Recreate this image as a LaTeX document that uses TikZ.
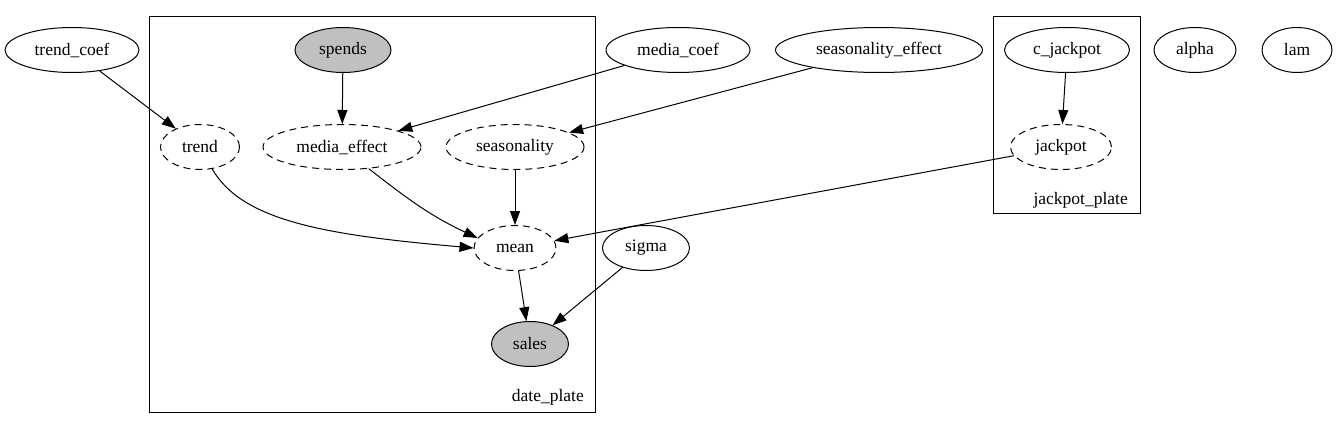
\documentclass[tikz,border=0pt]{standalone}
\usepackage{fontspec}
\setmainfont{Liberation Serif}
\usetikzlibrary{shapes.geometric,arrows.meta}
\definecolor{obsgray}{HTML}{C0C0C0}
\begin{document}
\begin{tikzpicture}[x=1pt,y=1pt,
  every node/.style={font=\fontsize{17.5}{21}\selectfont},
  rv/.style={ellipse,draw,line width=1pt,minimum height=45pt,inner sep=0pt},
  det/.style={rv,dash pattern=on 7pt off 5pt},
  obs/.style={rv,fill=obsgray},
  edge/.style={-{Triangle[length=14pt,width=10pt]},line width=1pt},
  plate/.style={draw,line width=1.1pt,rectangle,inner sep=0pt,anchor=north west},
  platelabel/.style={anchor=east,inner sep=0pt}
]
\useasboundingbox (0,0) rectangle (1338,-428);
% plates
\node[plate,minimum width=446pt,minimum height=396pt] (date_plate) at (149,-16) {};
\node[plate,minimum width=147pt,minimum height=197pt] (jackpot_plate) at (993,-16) {};
\node[platelabel] (date_label) at (584,-397) {date\_plate};
\node[platelabel] (jackpot_label) at (1128,-200) {jackpot\_plate};
% nodes
\node[rv,minimum width=134pt] (trend_coef) at (72,-50) {trend\_coef};
\node[obs,minimum width=96pt] (spends) at (343,-50) {spends};
\node[rv,minimum width=144pt] (media_coef) at (678,-50) {media\_coef};
\node[rv,minimum width=207pt] (seasonality_effect) at (879,-50) {seasonality\_effect};
\node[rv,minimum width=125pt] (c_jackpot) at (1067,-50) {c\_jackpot};
\node[rv,minimum width=82pt] (alpha) at (1195,-50) {alpha};
\node[rv,minimum width=70pt] (lam) at (1297,-50) {lam};
\node[det,minimum width=79pt] (trend) at (200,-147) {trend};
\node[det,minimum width=158pt] (media_effect) at (342,-147) {media\_effect};
\node[det,minimum width=138pt] (seasonality) at (515,-147) {seasonality};
\node[det,minimum width=101pt] (jackpot) at (1061,-147) {jackpot};
\node[det,minimum width=82pt] (mean) at (515,-248) {mean};
\node[rv,minimum width=87pt] (sigma) at (646,-248) {sigma};
\node[obs,minimum width=77pt] (sales) at (530,-344) {sales};
% edges
\draw[edge] (trend_coef) -- (trend);
\draw[edge] (spends) -- (media_effect);
\draw[edge] (media_coef) -- (media_effect);
\draw[edge] (seasonality_effect) -- (seasonality);
\draw[edge] (c_jackpot) -- (jackpot);
\draw[edge] (jackpot) -- (mean);
\draw[edge] (seasonality) -- (mean);
\draw[edge] (sigma) -- (sales);
\draw[edge] (mean) -- (sales);
\draw[edge] (trend.-61) .. controls +(-60:60) and +(175:150) .. (mean.west);
\draw[edge] (media_effect.-39) to[out=-38,in=155] (mean.165);
\end{tikzpicture}
\end{document}
